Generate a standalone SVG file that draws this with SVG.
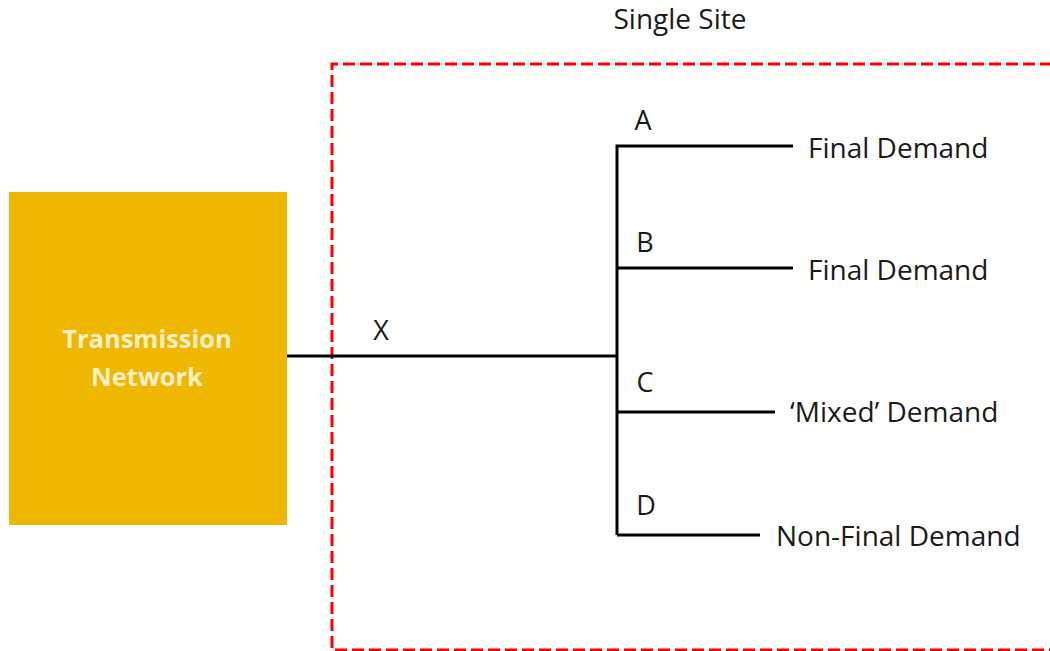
<svg xmlns="http://www.w3.org/2000/svg" width="1050" height="651" viewBox="0 0 1050 651">
<style>
.t{font-family:"Open Sans","Liberation Sans",sans-serif;font-size:28px;fill:#1a1a1a}
.s{font-size:27px}
.w{font-family:"Open Sans","Liberation Sans",sans-serif;font-size:25.5px;font-weight:bold;fill:#fdf0c8;text-anchor:middle}
.ln{stroke:#000;stroke-width:3;fill:none}
.site{stroke:#ff0000;stroke-width:3;fill:none;stroke-dasharray:12 5}
</style>
<rect width="1050" height="651" fill="#fff"/>
<g id="site">
<path class="site" d="M1052 64 H332 V650 H1052"/>
<text class="t" x="680" y="29" text-anchor="middle">Single Site</text>
</g>
<g id="transmission-network">
<rect x="9" y="192" width="278" height="333" fill="#efb700"/>
<text class="w" x="147" y="348">Transmission</text>
<text class="w" x="147" y="386">Network</text>
</g>
<g id="connectors">
<path class="ln" d="M287 356 H617"/>
<path class="ln" d="M617 535 V146 H793"/>
<path class="ln" d="M617 268 H793"/>
<path class="ln" d="M617 412 H775"/>
<path class="ln" d="M617 535 H760"/>
<text class="t s" x="381" y="340" text-anchor="middle">X</text>
<text class="t s" x="643" y="130" text-anchor="middle">A</text>
<text class="t s" x="645" y="252" text-anchor="middle">B</text>
<text class="t s" x="645" y="392" text-anchor="middle">C</text>
<text class="t s" x="646" y="515" text-anchor="middle">D</text>
</g>
<g id="demand-a"><text class="t" x="808" y="158">Final Demand</text></g>
<g id="demand-b"><text class="t" x="808" y="280">Final Demand</text></g>
<g id="demand-c"><text class="t" x="790" y="422">‘Mixed’ Demand</text></g>
<g id="demand-d"><text class="t" x="776" y="546">Non-Final Demand</text></g>
</svg>
